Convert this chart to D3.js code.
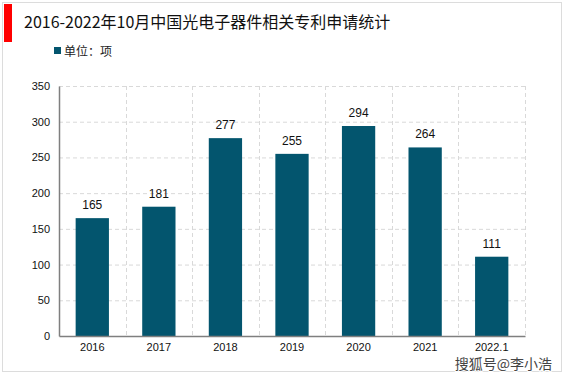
<!DOCTYPE html>
<html>
<head>
<meta charset="utf-8">
<script src="https://cdn.jsdelivr.net/npm/d3@7"></script>
<style>
  body { margin: 0; background: #fff; }
  svg { display: block; font-family: "Liberation Sans", Arial, "Noto Sans CJK SC", sans-serif; }
</style>
</head>
<body>
<script>
// data
const years = ["2016", "2017", "2018", "2019", "2020", "2021", "2022.1"];
const patents = [165, 181, 277, 255, 294, 264, 111];
const yTicks = [0, 50, 100, 150, 200, 250, 300, 350];

const W = 567, H = 378;
const margin = { top: 86, right: 42, bottom: 42, left: 59 };
const width = W - margin.left - margin.right;
const height = H - margin.top - margin.bottom;

const svg = d3.select("body").append("svg")
  .attr("width", W)
  .attr("height", H);

// outer frame
svg.append("rect")
  .attr("x", 2.5).attr("y", 2.5)
  .attr("width", 559).attr("height", 369)
  .attr("fill", "none")
  .attr("stroke", "#dcdcdc");

// red marker + title
svg.append("rect")
  .attr("x", 4).attr("y", 4)
  .attr("width", 8).attr("height", 38)
  .attr("fill", "#ff0000");

svg.append("text")
  .attr("x", 24).attr("y", 28)
  .attr("font-size", 16)
  .attr("fill", "#111")
  .attr("font-family", "\"Noto Sans CJK SC\", sans-serif")
  .text("2016-2022年10月中国光电子器件相关专利申请统计");

// legend
svg.append("rect")
  .attr("x", 54).attr("y", 47)
  .attr("width", 7).attr("height", 7)
  .attr("fill", "#03556e");
svg.append("text")
  .attr("x", 64).attr("y", 56)
  .attr("font-size", 12)
  .attr("fill", "#222")
  .attr("font-family", "\"Noto Sans CJK SC\", sans-serif")
  .text("单位：项");

const g = svg.append("g")
  .attr("transform", `translate(${margin.left}, ${margin.top})`);

const x = d3.scaleBand()
  .domain(years)
  .range([0, width])
  .paddingInner(0.5)
  .paddingOuter(0.25);

const y = d3.scaleLinear()
  .domain([0, 350])
  .range([height, 0]);

// horizontal grid
g.append("g")
  .selectAll("line")
  .data(yTicks.filter(d => d > 0))
  .enter()
  .append("line")
  .attr("x1", 0).attr("x2", width)
  .attr("y1", d => y(d) + 0.5).attr("y2", d => y(d) + 0.5)
  .attr("stroke", "#d9d9d9")
  .attr("stroke-dasharray", "4,3");

// vertical grid at band boundaries
const step = x.step();
const bounds = d3.range(1, years.length + 1).map(i => x(years[0]) - x.paddingOuter() * step + i * step);
g.append("g")
  .selectAll("line")
  .data(bounds)
  .enter()
  .append("line")
  .attr("x1", d => Math.round(d) + 0.5).attr("x2", d => Math.round(d) + 0.5)
  .attr("y1", 0).attr("y2", height)
  .attr("stroke", "#d9d9d9")
  .attr("stroke-dasharray", "4,3");

// bars
g.selectAll(".bar")
  .data(patents)
  .enter()
  .append("rect")
  .attr("class", "bar")
  .attr("x", (d, i) => x(years[i]))
  .attr("y", d => y(d))
  .attr("width", x.bandwidth())
  .attr("height", d => height - y(d))
  .attr("fill", "#03556e");

// value labels
g.selectAll(".val")
  .data(patents)
  .enter()
  .append("text")
  .attr("class", "val")
  .attr("x", (d, i) => x(years[i]) + x.bandwidth() / 2)
  .attr("y", d => y(d) - 9)
  .attr("text-anchor", "middle")
  .attr("font-size", 12)
  .attr("fill", "#111")
  .text(d => d);

// axes
const yAxis = g.append("g")
  .call(d3.axisLeft(y).tickValues(yTicks).tickSize(0).tickPadding(9));
yAxis.select(".domain").attr("stroke", "#7f7f7f").attr("stroke-width", 1.5);
yAxis.selectAll("text").attr("font-size", 11).attr("fill", "#111");

const xAxis = g.append("g")
  .attr("transform", `translate(0, ${height})`)
  .call(d3.axisBottom(x).tickSize(0).tickPadding(7));
xAxis.select(".domain").attr("stroke", "#7f7f7f").attr("stroke-width", 1.5);
xAxis.selectAll("text").attr("font-size", 11).attr("fill", "#111");

// watermark
svg.append("text")
  .attr("x", 552).attr("y", 369)
  .attr("text-anchor", "end")
  .attr("font-size", 14)
  .attr("font-family", "\"Noto Sans CJK SC\", sans-serif")
  .attr("fill", "#444")
  .attr("stroke", "#fff")
  .attr("stroke-width", 2)
  .attr("paint-order", "stroke")
  .text("搜狐号@李小浩");
</script>
</body>
</html>
